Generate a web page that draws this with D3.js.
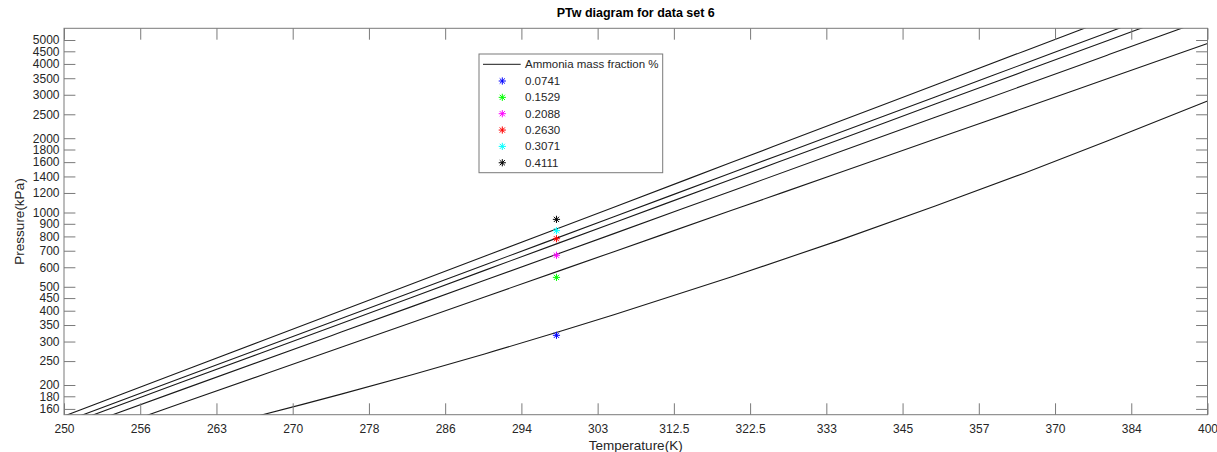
<!DOCTYPE html>
<html>
<head>
<meta charset="utf-8">
<script src="https://cdn.jsdelivr.net/npm/d3@7"></script>
<style>
  body { margin: 0; background: #fff; }
  svg { display: block; font-family: "Liberation Sans", Arial, sans-serif; }
</style>
</head>
<body>
<svg width="1217" height="452"></svg>
<script>
// temperatures (K) where the curves were read
let temps = [250, 260, 275, 290, 305, 320, 335, 350, 365, 380, 400]
// pressure (kPa) for each ammonia mass fraction
let fractions = ['0.0741', '0.1529', '0.2088', '0.2630', '0.3071', '0.4111']
let p0741 = [97.2, 125.4, 183.7, 267.3, 385, 547.5, 767.4, 1062, 1447, 1947, 2829]
let p1529 = [114.8, 168.6, 284.3, 454.7, 693.9, 1018, 1442, 1984, 2658, 3482, 4835]
let p2088 = [128.5, 191.1, 327.7, 531, 821.2, 1220, 1749, 2430, 3285, 4339, 6088]
let p2630 = [136.8, 205, 355.3, 582.7, 909, 1361, 1963, 2750, 3741, 4967, 7017]
let p3071 = [141.8, 213.3, 371.9, 613, 960.6, 1446, 2094, 2940, 4016, 5352, 7590]
let p4111 = [149.6, 226.9, 399.6, 665.1, 1051, 1593, 2326, 3289, 4517, 6048, 8629]
let curves = [p0741, p1529, p2088, p2630, p3071, p4111]

// measured points at 298.15 K
let pointT = 298.15
let pointP = [318, 546, 671, 783, 844, 938]
let pointColors = ['#0000ff', '#00ff00', '#ff00ff', '#ff0000', '#00ffff', '#000000']

// x axis is linear in 1000/T
let xTickInv = [4.0, 3.9, 3.8, 3.7, 3.6, 3.5, 3.4, 3.3, 3.2, 3.1, 3.0, 2.9, 2.8, 2.7, 2.6, 2.5]
let xTickLabels = ['250', '256', '263', '270', '278', '286', '294', '303', '312.5', '322.5', '333', '345', '357', '370', '384', '400']
let yTicks = [160, 180, 200, 250, 300, 350, 400, 450, 500, 600, 700, 800, 900, 1000, 1200, 1400, 1600, 1800, 2000, 2500, 3000, 3500, 4000, 4500, 5000]

let plotL = 64, plotR = 1207.5, plotT = 28.3, plotB = 414.7
let svg = d3.select('svg')
let x = d3.scaleLinear().domain([4.0, 2.5]).range([plotL, plotR])
let y = d3.scaleLog().domain([151.6, 5577]).range([plotB, plotT])
let tx = t => x(1000 / t)

let textColor = '#262626'
let axisColor = '#7a7a7a'
let tick = 11.4

svg.append('defs').append('clipPath').attr('id', 'plot')
  .append('rect')
  .attr('x', plotL).attr('y', plotT)
  .attr('width', plotR - plotL).attr('height', plotB - plotT)

// curves
let line = d3.line()
  .x((d, i) => tx(temps[i]))
  .y(d => y(d))
  .curve(d3.curveMonotoneX)

svg.append('g')
  .attr('clip-path', 'url(#plot)')
  .selectAll('path')
  .data(curves)
  .join('path')
  .attr('d', line)
  .attr('fill', 'none')
  .attr('stroke', '#1a1a1a')
  .attr('stroke-width', 1.1)

// asterisk marker
function star(cx, cy, r) {
  let d = r * 0.72
  return `M${cx - r},${cy}L${cx + r},${cy}M${cx},${cy - r}L${cx},${cy + r}` +
    `M${cx - d},${cy - d}L${cx + d},${cy + d}M${cx - d},${cy + d}L${cx + d},${cy - d}`
}

svg.append('g')
  .selectAll('path')
  .data(pointP)
  .join('path')
  .attr('d', d => star(tx(pointT), y(d), 3.6))
  .attr('stroke', (d, i) => pointColors[i])
  .attr('stroke-width', 1)
  .attr('fill', 'none')

// axes
function styleAxis(g) {
  g.select('.domain').remove()
  g.selectAll('.tick line').attr('stroke', axisColor)
  g.selectAll('.tick text').attr('fill', textColor).style('font-size', '12px')
}

svg.append('g')
  .attr('transform', `translate(0,${plotB})`)
  .call(d3.axisBottom(x).tickValues(xTickInv).tickFormat((d, i) => xTickLabels[i])
    .tickSize(-tick).tickPadding(10))
  .call(styleAxis)

svg.append('g')
  .attr('transform', `translate(0,${plotT})`)
  .call(d3.axisTop(x).tickValues(xTickInv).tickFormat('').tickSize(-tick))
  .call(styleAxis)

svg.append('g')
  .attr('transform', `translate(${plotL},0)`)
  .call(d3.axisLeft(y).tickValues(yTicks).tickFormat(d3.format('d'))
    .tickSize(-tick).tickPadding(4.5))
  .call(styleAxis)

svg.append('g')
  .attr('transform', `translate(${plotR},0)`)
  .call(d3.axisRight(y).tickValues(yTicks).tickFormat('').tickSize(-tick))
  .call(styleAxis)

svg.append('rect')
  .attr('x', plotL).attr('y', plotT)
  .attr('width', plotR - plotL).attr('height', plotB - plotT)
  .attr('fill', 'none')
  .attr('stroke', axisColor)

// titles
svg.append('text')
  .attr('x', (plotL + plotR) / 2).attr('y', 17)
  .attr('text-anchor', 'middle')
  .attr('fill', '#000')
  .style('font-size', '12.5px').style('font-weight', 'bold')
  .text('PTw diagram for data set 6')

svg.append('text')
  .attr('x', (plotL + plotR) / 2).attr('y', 450)
  .attr('text-anchor', 'middle')
  .attr('fill', textColor)
  .style('font-size', '13.5px')
  .text('Temperature(K)')

svg.append('text')
  .attr('transform', `translate(24,${(plotT + plotB) / 2}) rotate(-90)`)
  .attr('text-anchor', 'middle')
  .attr('fill', textColor)
  .style('font-size', '13.5px')
  .text('Pressure(kPa)')

// legend
let legend = svg.append('g').attr('transform', 'translate(479,54)')
legend.append('rect')
  .attr('width', 183.7).attr('height', 118.7)
  .attr('fill', '#fff')
  .attr('stroke', axisColor)

legend.append('line')
  .attr('x1', 4).attr('x2', 41.7)
  .attr('y1', 10.3).attr('y2', 10.3)
  .attr('stroke', '#1a1a1a')

legend.append('text')
  .attr('x', 46).attr('y', 14.3)
  .attr('fill', textColor)
  .style('font-size', '11.5px')
  .text('Ammonia mass fraction %')

let rows = legend.selectAll('g.row')
  .data(fractions)
  .join('g')
  .attr('class', 'row')
  .attr('transform', (d, i) => `translate(0,${27 + i * 16.35})`)

rows.append('path')
  .attr('d', star(23.3, 0, 3.6))
  .attr('stroke', (d, i) => pointColors[i])
  .attr('fill', 'none')

rows.append('text')
  .attr('x', 46).attr('y', 4)
  .attr('fill', textColor)
  .style('font-size', '11.5px')
  .text(d => d)
</script>
</body>
</html>
